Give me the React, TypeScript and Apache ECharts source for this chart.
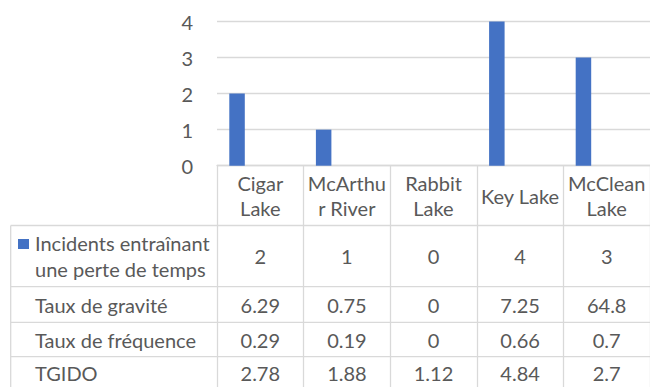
import React, { useEffect, useRef } from "react";
import * as echarts from "echarts";

const categories = ["Cigar Lake", "McArthur River", "Rabbit Lake", "Key Lake", "McClean Lake"];
const headerLabels = ["Cigar\nLake", "McArthu\nr River", "Rabbit\nLake", "Key Lake", "McClean\nLake"];
const seriesNames = [
  "Incidents entraînant une perte de temps",
  "Taux de gravité",
  "Taux de fréquence",
  "TGIDO",
];
const rowLabels = ["Incidents entraînant\nune perte de temps", "Taux de gravité", "Taux de fréquence", "TGIDO"];
const incidents = [2, 1, 0, 4, 3];
const gravite = [6.29, 0.75, 0, 7.25, 64.8];
const frequence = [0.29, 0.19, 0, 0.66, 0.7];
const tgido = [2.78, 1.88, 1.12, 4.84, 2.7];
const yMin = 0;
const yMax = 4;
const yInterval = 1;

const rows = [incidents, gravite, frequence, tgido];

const FONT = "Lato, 'Open Sans', sans-serif";
const TXT = "#595959";
const LINE = "#d9d9d9";
const BLUE = "#4472C4";
const FS = 20;

export default function App() {
  const ref = useRef<HTMLDivElement>(null);
  useEffect(() => {
    if (!ref.current) return;
    const chart = echarts.init(ref.current, null, { renderer: "svg" });
    const axisY = 165.7;
    const rowCenters = [256.1, 304.5, 339.5, 373.3];
    const hLines = [225.5, 286.7, 322.3, 356.7];

    const valueAxes = rows.map((row, r) => ({
      type: "category",
      data: categories,
      position: "bottom",
      gridIndex: 0,
      axisLine: { show: false },
      axisTick: { show: false },
      splitLine: { show: false },
      axisLabel: {
        interval: 0,
        margin: rowCenters[r] - axisY,
        verticalAlign: "middle",
        fontFamily: FONT,
        fontSize: FS,
        color: TXT,
        formatter: (_v: string, i: number) => String(row[i]),
      },
    }));

    const graphics: any[] = [];
    hLines.forEach((y) => {
      graphics.push({
        type: "line",
        shape: { x1: 10.7, y1: y, x2: 660, y2: y },
        style: { stroke: LINE, lineWidth: 1.3 },
      });
    });
    graphics.push({
      type: "line",
      shape: { x1: 10.7, y1: hLines[0], x2: 10.7, y2: 390 },
      style: { stroke: LINE, lineWidth: 1.3 },
    });
    rowLabels.forEach((t, r) => {
      graphics.push({
        type: "text",
        x: 35,
        y: rowCenters[r],
        style: {
          text: t,
          fill: TXT,
          fontFamily: FONT,
          fontSize: FS,
          lineHeight: 25.6,
          verticalAlign: "middle",
          align: "left",
        },
      });
    });
    graphics.push({
      type: "rect",
      shape: { x: 18, y: 239, width: 11, height: 10 },
      style: { fill: BLUE },
    });

    const seriesData = [incidents, gravite, frequence, tgido];
    chart.setOption({
      animation: false,
      grid: { left: 217, top: 21.5, width: 438.4, height: 144.2 },
      xAxis: [
        {
          type: "category",
          data: categories,
          position: "bottom",
          axisLine: { show: true, lineStyle: { color: LINE, width: 1.3 } },
          axisTick: {
            show: true,
            interval: 0,
            length: 225,
            lineStyle: { color: LINE, width: 1.3 },
          },
          axisLabel: {
            interval: 0,
            margin: 195.5 - axisY,
            verticalAlign: "middle",
            fontFamily: FONT,
            fontSize: FS,
            color: TXT,
            lineHeight: 25.6,
            formatter: (_v: string, i: number) => headerLabels[i],
          },
        },
        ...valueAxes,
      ],
      yAxis: {
        type: "value",
        min: yMin,
        max: yMax,
        interval: yInterval,
        axisLine: { show: false },
        axisTick: { show: false },
        splitLine: { lineStyle: { color: LINE, width: 1.3 } },
        axisLabel: { margin: 24, fontFamily: FONT, fontSize: FS, color: TXT },
      },
      series: seriesData.map((d, i) => ({
        type: "bar",
        name: seriesNames[i],
        data: d,
        xAxisIndex: 0,
        barGap: "0%",
        barCategoryGap: "28.4%",
        itemStyle: { color: BLUE, opacity: i === 0 ? 1 : 0 },
        silent: i !== 0,
      })),
      graphic: graphics,
    });
    return () => chart.dispose();
  }, []);
  return (
    <div
      ref={ref}
      style={{ position: "fixed", left: 0, top: 0, width: 650, height: 387, background: "#fff" }}
    />
  );
}
